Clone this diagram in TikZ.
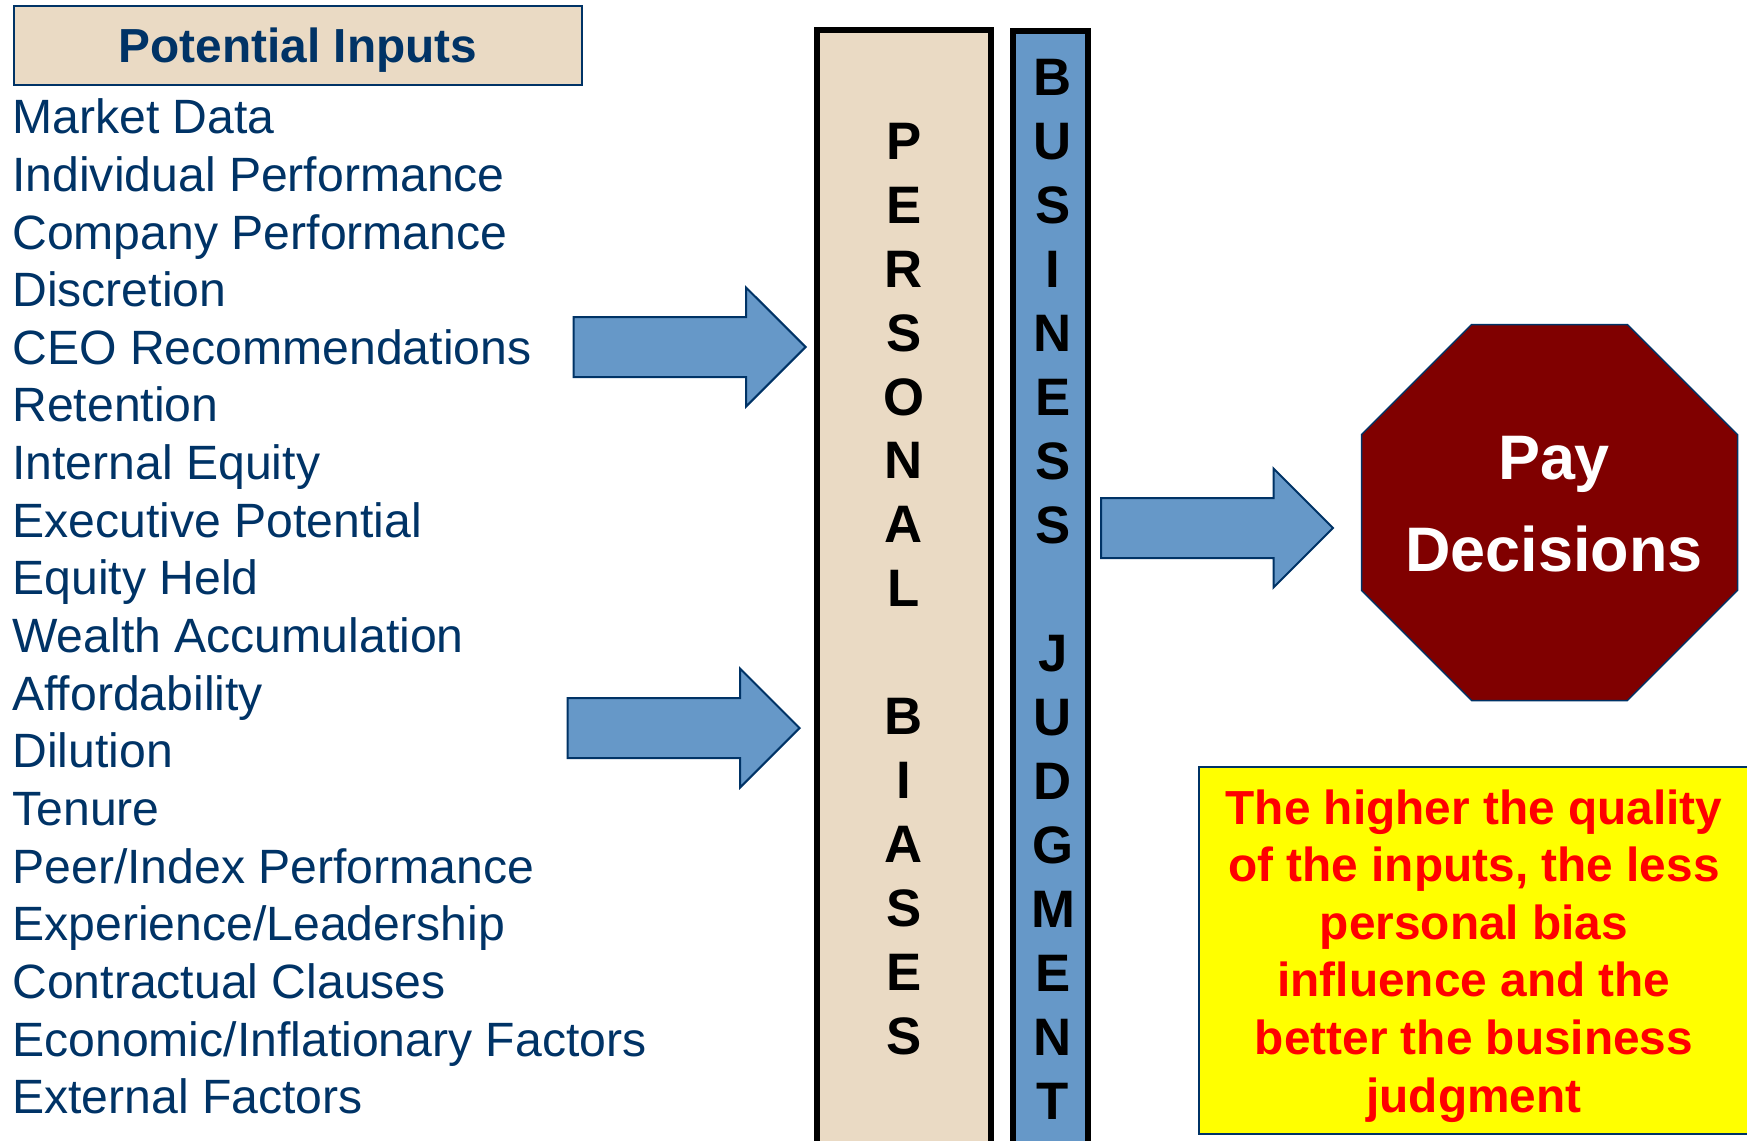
\documentclass[tikz,border=0pt]{standalone}
\usepackage{fontspec}
\setmainfont{Liberation Sans}
\usepackage{tikz}
\usetikzlibrary{arrows.meta, positioning, shapes.geometric, shapes.arrows}
\usepackage{xcolor}
\definecolor{marinho}{RGB}{0, 51, 102}
\definecolor{areia}{RGB}{234, 218, 196}
\definecolor{azul}{RGB}{102, 152, 200}
\definecolor{vinho}{RGB}{128, 0, 0}
\definecolor{amarelo}{RGB}{255, 255, 0}
\definecolor{vermelho}{RGB}{255, 0, 0}
\tikzset{
  coluna/.style={
    draw=black, line width=1.2mm, minimum height=226mm, inner sep=0pt
  },
  colunaPB/.style={coluna, fill=areia, minimum width=34.8mm},
  colunaBJ/.style={coluna, fill=azul, minimum width=15mm},
  letras/.style={
    align=center, inner sep=0pt, anchor=north,
    font=\fontsize{30}{36.4}\selectfont\bfseries
  },
  setaBloco/.style={
    single arrow, draw=marinho, line width=0.4mm, fill=azul,
    minimum height=46.4mm, inner xsep=0pt, inner ysep=5.8mm,
    single arrow head extend=5.9mm, single arrow tip angle=90
  },
}

\begin{document}
\begin{tikzpicture}[
    x=0.2mm, y=-0.2mm,
    titulo/.style={
        draw=marinho, line width=0.4mm, fill=areia,
        minimum width=113.6mm, minimum height=15.8mm, text depth=0pt,
        font=\fontsize{27.2}{32.8}\selectfont\bfseries, text=marinho
    },
    lista/.style={
        align=left, inner sep=0pt, anchor=north west,
        font=\fontsize{27.4}{32.8}\selectfont, text=marinho
    },
    octogono/.style={
        regular polygon, regular polygon sides=8, minimum size=81.4mm,
        inner sep=0pt, fill=vinho, draw=marinho, line width=0.3mm
    },
    nota/.style={
        draw=marinho, line width=0.4mm, fill=amarelo,
        minimum width=110mm, minimum height=73.4mm
    }
]
\useasboundingbox (0,0) rectangle (1747,1140);

% lista de entradas
\node[titulo] (titulo) at (298,45.5) {Potential Inputs};

\node[lista] (entradas) at (12,98.5)
{Market Data\\
Individual Performance\\
Company Performance\\
Discretion\\
CEO Recommendations\\
Retention\\
Internal Equity\\
Executive Potential\\
Equity Held\\
Wealth Accumulation\\
Affordability\\
Dilution\\
Tenure\\
Peer/Index Performance\\
Experience/Leadership\\
Contractual Clauses\\
Economic/Inflationary Factors\\
External Factors};

% colunas verticais
\node[colunaPB] (vieses) at (904,595) {};
\node[letras] (vieses-texto) at (904,122.5)
{P\\E\\R\\S\\O\\N\\A\\L\\[36.4pt]B\\I\\A\\S\\E\\S};

\node[colunaBJ] (julgamento) at (1050.5,596) {};
\node[letras] (julgamento-texto) at (1053,59)
{B\\U\\S\\I\\N\\E\\S\\S\\[36.4pt]J\\U\\D\\G\\M\\E\\N\\T};

% decisao final
\node[octogono] (decisao) at (1549.5,512.5) {};
\node[font=\fontsize{35.8}{52.6}\selectfont\bfseries, text=white, align=center]
    (decisao-texto) at (1554,504) {Pay\\Decisions};

\node[nota] (nota) at (1474,950.5) {};
\node[font=\fontsize{27.2}{32.8}\selectfont\bfseries, text=vermelho,
      align=center, anchor=north, inner sep=0pt] (nota-texto) at (1474,789)
{The higher the quality\\
of the inputs, the less\\
personal bias\\
influence and the\\
better the business\\
judgment};

% setas
\node[setaBloco, anchor=tip] (seta1) at ([xshift=-1.4mm]vieses.west |- 0,347) {};
\node[setaBloco, anchor=tip] (seta2) at ([xshift=-2.6mm]vieses.west |- 0,728) {};
\node[setaBloco, anchor=tail] (seta3) at ([xshift=1.8mm]julgamento.east |- 0,528) {};

\end{tikzpicture}
\end{document}
